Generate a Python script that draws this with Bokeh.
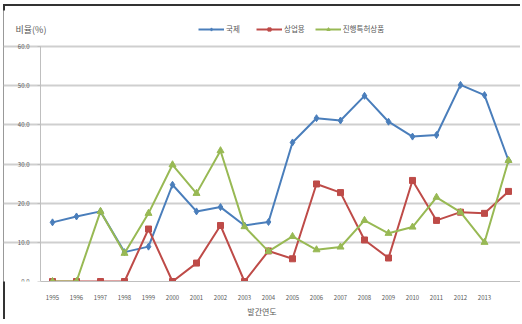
from bokeh.plotting import figure
from bokeh.models import (ColumnDataSource, FixedTicker, Legend, LegendItem, Label,
                          Range1d, NumeralTickFormatter)
from bokeh.layouts import column
from bokeh.embed import file_html
from bokeh.resources import INLINE

# Publication years (the final point has no tick label)
years = list(range(1995, 2015))
tick_years = list(range(1995, 2014))

series_names = ["국제", "상업용", "진행특허상품"]
intl = [15.1, 16.6, 17.9, 7.5, 8.9, 24.7, 17.9, 19.0, 14.3, 15.2,
        35.5, 41.7, 41.1, 47.4, 40.8, 37.0, 37.4, 50.2, 47.6, 30.9]
commercial = [0, 0, 0, 0, 13.4, 0, 4.7, 14.3, 0, 7.8,
              5.8, 24.9, 22.7, 10.6, 6.0, 25.8, 15.6, 17.7, 17.4, 23.0]
patented = [0, 0, 17.9, 7.2, 17.4, 29.8, 22.5, 33.4, 14.0, 7.7,
            11.5, 8.1, 8.8, 15.6, 12.3, 13.9, 21.5, 17.7, 10.0, 30.9]

y_ticks = [0, 10, 20, 30, 40, 50, 60]

FONT = "Noto Sans CJK KR"
TXT = "#595959"
BLUE, RED, GREEN = "#4a7ebb", "#be4b48", "#98b954"

# Geometry (px). The plotting area proper is AREA_W x AREA_H; the frame is
# widened to the left and upwards so the legend and unit caption fit inside it.
AREA_W, AREA_H = 480, 235
EXTRA_LEFT, EXTRA_TOP = 37, 36
LEFT_PANEL = 40
TOP_PAD, BOTTOM_PAD, RIGHT_PAD = 6, 38, 0

x0 = years[0] - 0.5
x1 = years[-1] + 0.5
px_per_year = AREA_W / (x1 - x0)
y_top = max(y_ticks)
px_per_unit = AREA_H / y_top

src = ColumnDataSource(dict(x=years, a=intl, b=commercial, c=patented))

fig_w = LEFT_PANEL + EXTRA_LEFT + AREA_W + RIGHT_PAD
fig_h = TOP_PAD + EXTRA_TOP + AREA_H + BOTTOM_PAD

p = figure(width=fig_w, height=fig_h,
           output_backend="svg", toolbar_location=None,
           x_range=Range1d(x0 - EXTRA_LEFT / px_per_year, x1),
           y_range=Range1d(0, y_top + EXTRA_TOP / px_per_unit),
           frame_width=EXTRA_LEFT + AREA_W, frame_height=EXTRA_TOP + AREA_H,
           min_border_left=LEFT_PANEL, min_border_right=RIGHT_PAD, min_border_top=TOP_PAD,
           min_border_bottom=BOTTOM_PAD,
           styles={"margin-left": f"-{LEFT_PANEL}px", "flex-shrink": "0",
                   "min-width": f"{fig_w}px", "max-width": "none"})
p.outline_line_color = None
p.background_fill_color = "white"
p.border_fill_color = None

# Grid
p.xgrid.grid_line_color = None
p.ygrid.ticker = FixedTicker(ticks=y_ticks)
p.ygrid.grid_line_color = "#cfcfcf"
p.ygrid.grid_line_width = 2
p.ygrid.bounds = (x0, x1)

# X axis
p.xaxis.ticker = FixedTicker(ticks=tick_years)
p.xaxis.bounds = (x0, x1)
p.xaxis.major_label_text_font = FONT
p.xaxis.major_label_text_font_size = "6px"
p.xaxis.major_label_text_color = TXT
p.xaxis.major_label_standoff = 7
p.xaxis.major_tick_line_color = None
p.xaxis.minor_tick_line_color = None
p.xaxis.axis_line_color = "#bfbfbf"
p.xaxis.axis_label = "발간연도"
p.xaxis.axis_label_text_font = FONT
p.xaxis.axis_label_text_font_size = "8px"
p.xaxis.axis_label_text_font_style = "normal"
p.xaxis.axis_label_text_color = TXT
p.xaxis.axis_label_standoff = 3

# Y axis, pinned to the left edge of the plotting area
p.yaxis.fixed_location = x0
p.yaxis.bounds = (0, y_top)
p.yaxis.ticker = FixedTicker(ticks=y_ticks)
p.yaxis.formatter = NumeralTickFormatter(format="0.0")
p.yaxis.major_label_text_font = FONT
p.yaxis.major_label_text_font_size = "6px"
p.yaxis.major_label_text_color = TXT
p.yaxis.major_label_standoff = 8
p.yaxis.major_tick_line_color = "#bfbfbf"
p.yaxis.major_tick_in = 0
p.yaxis.major_tick_out = 3
p.yaxis.minor_tick_line_color = None
p.yaxis.axis_line_color = "#bfbfbf"

l1 = p.line("x", "a", source=src, line_color=BLUE, line_width=2)
m1 = p.scatter("x", "a", source=src, marker="diamond", size=7, fill_color=BLUE, line_color=BLUE)
l2 = p.line("x", "b", source=src, line_color=RED, line_width=2)
m2 = p.scatter("x", "b", source=src, marker="square", size=6, fill_color=RED, line_color=RED)
l3 = p.line("x", "c", source=src, line_color=GREEN, line_width=2)
m3 = p.scatter("x", "c", source=src, marker="triangle", size=7, fill_color=GREEN, line_color=GREEN)

legend = Legend(items=[LegendItem(label=series_names[0], renderers=[l1, m1]),
                       LegendItem(label=series_names[1], renderers=[l2, m2]),
                       LegendItem(label=series_names[2], renderers=[l3, m3])],
                orientation="horizontal", location=(EXTRA_LEFT + 158, AREA_H + 12),
                label_text_font=FONT, label_text_font_size="7.5px", label_text_color=TXT,
                glyph_width=26, glyph_height=8, label_standoff=2, spacing=10,
                padding=0, margin=0, background_fill_alpha=0, border_line_color=None)
p.add_layout(legend, "center")

p.add_layout(Label(x=12, y=AREA_H + 11, x_units="screen", y_units="screen", text="비율(%)",
                   text_font=FONT, text_font_size="9px", text_color=TXT))

# Outer container: the visible part of the figure, with a dark rule on its top and left
layout = column(p, width=fig_w - LEFT_PANEL, height=fig_h,
                styles={"box-shadow": "inset 2px 2px 0 0 #333333",
                        "margin-left": "3px", "margin-top": "4px", "overflow": "hidden"})

open("out.html", "w").write(file_html(layout, INLINE))
